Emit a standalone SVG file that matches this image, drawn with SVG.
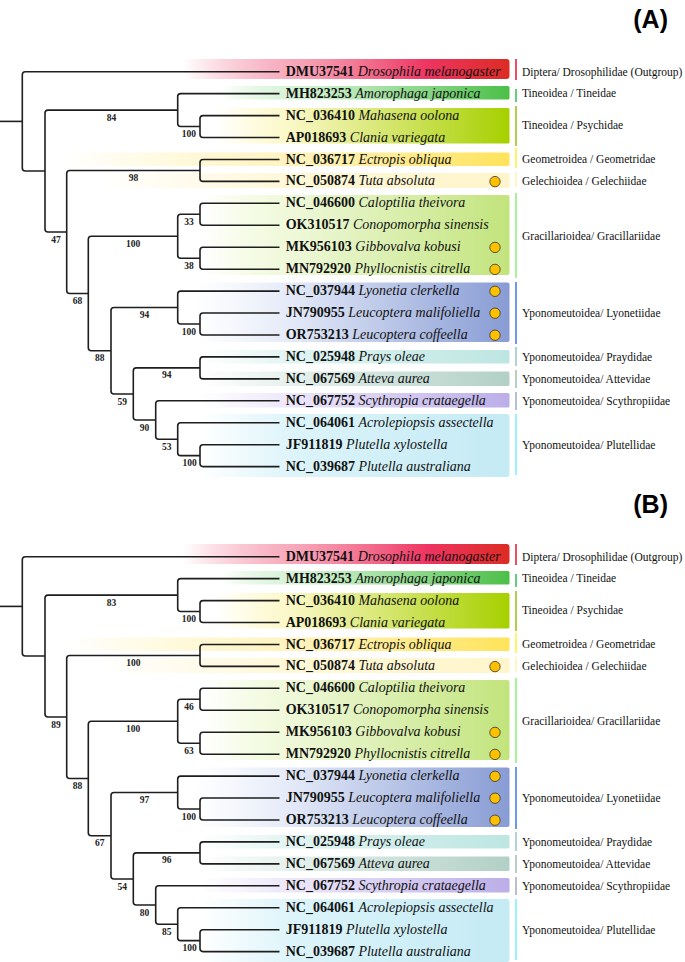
<svg xmlns="http://www.w3.org/2000/svg" width="685" height="962" viewBox="0 0 685 962">
<style>
.br{fill:none;stroke:#1e1e1e;stroke-width:1.6;stroke-linejoin:round}
.leaf{font-family:"Liberation Serif",serif;font-size:14px;fill:#111}
.acc{font-weight:bold}
.sp{font-style:italic}
.sup{font-family:"Liberation Serif",serif;font-size:9.5px;font-weight:bold;fill:#222;text-anchor:middle}
.fam{font-family:"Liberation Serif",serif;font-size:11.5px;fill:#111}
.bar{stroke-width:1.6}
.dot{fill:#ffc000;stroke:#333;stroke-width:0.8}
.pl{font-family:"Liberation Sans",Arial,sans-serif;font-size:25px;font-weight:bold;fill:#000;text-anchor:end}
</style>
<defs>
<linearGradient id="gDros"><stop offset="0" stop-color="#f06080" stop-opacity="0"/><stop offset="0.35" stop-color="#f590a8" stop-opacity="0.8"/><stop offset="0.75" stop-color="#ee3460"/><stop offset="1" stop-color="#dc2c24"/></linearGradient>
<linearGradient id="gAmo"><stop offset="0" stop-color="#b0e8b0" stop-opacity="0"/><stop offset="0.3" stop-color="#cdf0cd" stop-opacity="0.9"/><stop offset="1" stop-color="#4cbf48"/></linearGradient>
<linearGradient id="gPsy"><stop offset="0" stop-color="#fff8c0" stop-opacity="0"/><stop offset="0.25" stop-color="#fbf8c8"/><stop offset="1" stop-color="#a6d000"/></linearGradient>
<linearGradient id="gGeo"><stop offset="0" stop-color="#fff0a0" stop-opacity="0"/><stop offset="0.5" stop-color="#fff0b0" stop-opacity="0.8"/><stop offset="1" stop-color="#ffe35a"/></linearGradient>
<linearGradient id="gGel"><stop offset="0" stop-color="#fff8d8" stop-opacity="0"/><stop offset="0.45" stop-color="#fff8d8"/><stop offset="1" stop-color="#fff5cc"/></linearGradient>
<linearGradient id="gGra"><stop offset="0" stop-color="#e8f8c0" stop-opacity="0"/><stop offset="0.3" stop-color="#eef8d8"/><stop offset="1" stop-color="#c2e47c"/></linearGradient>
<linearGradient id="gLyo"><stop offset="0" stop-color="#e8eef8" stop-opacity="0"/><stop offset="0.3" stop-color="#e4eaf8"/><stop offset="1" stop-color="#889cd4"/></linearGradient>
<linearGradient id="gPra"><stop offset="0" stop-color="#e0f4f2" stop-opacity="0"/><stop offset="0.3" stop-color="#e0f4f2"/><stop offset="1" stop-color="#bde6e2"/></linearGradient>
<linearGradient id="gAtt"><stop offset="0" stop-color="#e4f0ec" stop-opacity="0"/><stop offset="0.3" stop-color="#e4f0ec"/><stop offset="1" stop-color="#b2d0c6"/></linearGradient>
<linearGradient id="gScy"><stop offset="0" stop-color="#ece6fa" stop-opacity="0"/><stop offset="0.3" stop-color="#ece6fa"/><stop offset="1" stop-color="#bcaee8"/></linearGradient>
<linearGradient id="gPlu"><stop offset="0" stop-color="#dcf4fa" stop-opacity="0"/><stop offset="0.3" stop-color="#dcf4fa"/><stop offset="1" stop-color="#c4eaf4"/></linearGradient>
</defs>
<rect width="685" height="962" fill="#fff"/>

<g id="panel-a">
<text class="pl" x="668" y="28">(A)</text>
<g id="families-a">
<g id="fam-a-drosophilidae"><rect x="183" y="59" width="326.5" height="20" rx="3" fill="url(#gDros)"/><line class="bar" x1="516" y1="59" x2="516" y2="80" stroke="#e8203a"/><text class="fam" x="522" y="75.5">Diptera/ Drosophilidae (Outgroup)</text></g>
<g id="fam-a-tineidae"><rect x="220" y="86" width="289.5" height="13.5" rx="1.5" fill="url(#gAmo)"/><line class="bar" x1="516" y1="89" x2="516" y2="102" stroke="#40c060"/><text class="fam" x="522" y="96.5">Tineoidea / Tineidae</text></g>
<g id="fam-a-psychidae"><rect x="215" y="108" width="294.5" height="35.5" rx="1.5" fill="url(#gPsy)"/><line class="bar" x1="516" y1="106" x2="516" y2="146" stroke="#a0c020"/><text class="fam" x="522" y="128.8">Tineoidea / Psychidae</text></g>
<g id="fam-a-geometridae"><rect x="67" y="152.5" width="442.5" height="13.5" rx="1.5" fill="url(#gGeo)"/><line class="bar" x1="516" y1="148" x2="516" y2="168" stroke="#fff040"/><text class="fam" x="522" y="162.8">Geometroidea / Geometridae</text></g>
<g id="fam-a-gelechiidae"><rect x="100" y="173" width="409.5" height="15" rx="1.5" fill="url(#gGel)"/><line class="bar" x1="516" y1="172" x2="516" y2="187" stroke="#fff4b8"/><text class="fam" x="522" y="184.5">Gelechioidea / Gelechiidae</text></g>
<g id="fam-a-gracillariidae"><rect x="205" y="195" width="304.5" height="80" rx="2" fill="url(#gGra)"/><line class="bar" x1="516" y1="193" x2="516" y2="278" stroke="#90f080"/><text class="fam" x="522" y="239.8">Gracillarioidea/ Gracillariidae</text></g>
<g id="fam-a-lyonetiidae"><rect x="195" y="282.5" width="314.5" height="59.5" rx="2" fill="url(#gLyo)"/><line class="bar" x1="516" y1="282" x2="516" y2="344" stroke="#4a7ee8"/><text class="fam" x="522" y="317.1">Yponomeutoidea/ Lyonetiidae</text></g>
<g id="fam-a-praydidae"><rect x="200" y="350" width="309.5" height="13.5" rx="1.5" fill="url(#gPra)"/><line class="bar" x1="516" y1="347" x2="516" y2="366" stroke="#9cc8c8"/><text class="fam" x="522" y="360.5">Yponomeutoidea/ Praydidae</text></g>
<g id="fam-a-attevidae"><rect x="200" y="371.5" width="309.5" height="14.5" rx="1.5" fill="url(#gAtt)"/><line class="bar" x1="516" y1="370" x2="516" y2="388" stroke="#a8c0b8"/><text class="fam" x="522" y="383.1">Yponomeutoidea/ Attevidae</text></g>
<g id="fam-a-scythropiidae"><rect x="200" y="393" width="309.5" height="14.5" rx="1.5" fill="url(#gScy)"/><line class="bar" x1="516" y1="392" x2="516" y2="410" stroke="#a8b0c0"/><text class="fam" x="522" y="404.8">Yponomeutoidea/ Scythropiidae</text></g>
<g id="fam-a-plutellidae"><rect x="200" y="414" width="309.5" height="63" rx="3" fill="url(#gPlu)"/><line class="bar" x1="516" y1="414" x2="516" y2="475" stroke="#80f0ff"/><text class="fam" x="522" y="448.8">Yponomeutoidea/ Plutellidae</text></g>
</g>
<g id="connectors-a" class="br">
<path d="M0,121.4H22.3"/>
<path d="M279.5,71.7H25.3Q22.3,71.7 22.3,74.7V168.05Q22.3,171.05 25.3,171.05H45"/>
<path d="M177.7,110.1H48Q45,110.1 45,113.1V229Q45,232 48,232H66.7"/>
<path d="M279.5,93.6H180.7Q177.7,93.6 177.7,96.6V123.55Q177.7,126.55 180.7,126.55H200"/>
<path d="M279.5,115.6H203Q200,115.6 200,118.6V134.5Q200,137.5 203,137.5H279.5"/>
<path d="M200,170.45H69.7Q66.7,170.45 66.7,173.45V290.5Q66.7,293.5 69.7,293.5H88.3"/>
<path d="M279.5,159.5H203Q200,159.5 200,162.5V178.4Q200,181.4 203,181.4H279.5"/>
<path d="M177.7,236.25H91.3Q88.3,236.25 88.3,239.25V347.75Q88.3,350.75 91.3,350.75H111"/>
<path d="M200,214.3H180.7Q177.7,214.3 177.7,217.3V255.2Q177.7,258.2 180.7,258.2H200"/>
<path d="M279.5,203.3H203Q200,203.3 200,206.3V222.3Q200,225.3 203,225.3H279.5"/>
<path d="M279.5,247.2H203Q200,247.2 200,250.2V266.2Q200,269.2 203,269.2H279.5"/>
<path d="M177.7,307.55H114Q111,307.55 111,310.55V390.95Q111,393.95 114,393.95H133.3"/>
<path d="M279.5,291.1H180.7Q177.7,291.1 177.7,294.1V321Q177.7,324 180.7,324H200"/>
<path d="M279.5,313H203Q200,313 200,316V332Q200,335 203,335H279.5"/>
<path d="M200,367.9H136.3Q133.3,367.9 133.3,370.9V417Q133.3,420 136.3,420H155.7"/>
<path d="M279.5,356.9H203Q200,356.9 200,359.9V375.9Q200,378.9 203,378.9H279.5"/>
<path d="M279.5,400.8H158.7Q155.7,400.8 155.7,403.8V436.2Q155.7,439.2 158.7,439.2H177.7"/>
<path d="M279.5,422.7H180.7Q177.7,422.7 177.7,425.7V452.65Q177.7,455.65 180.7,455.65H200"/>
<path d="M279.5,444.7H203Q200,444.7 200,447.7V463.6Q200,466.6 203,466.6H279.5"/>
</g>
<g id="support-a">
<text class="sup" x="111.4" y="120.6">84</text>
<text class="sup" x="188.9" y="137.1">100</text>
<text class="sup" x="55.9" y="242.5">47</text>
<text class="sup" x="133.4" y="181">98</text>
<text class="sup" x="77.5" y="304">68</text>
<text class="sup" x="133" y="246.8">100</text>
<text class="sup" x="188.9" y="224.8">33</text>
<text class="sup" x="188.9" y="268.7">38</text>
<text class="sup" x="99.7" y="361.3">88</text>
<text class="sup" x="144.4" y="318.1">94</text>
<text class="sup" x="188.9" y="334.5">100</text>
<text class="sup" x="122.2" y="404.5">59</text>
<text class="sup" x="166.7" y="378.4">94</text>
<text class="sup" x="144.5" y="430.5">90</text>
<text class="sup" x="166.7" y="449.7">53</text>
<text class="sup" x="189.5" y="466.2">100</text>
</g>
<g id="leaves-a">
<g id="a-dmu37541"><text class="leaf" x="285.7" y="75.7"><tspan class="acc">DMU37541</tspan> <tspan class="sp">Drosophila melanogaster</tspan></text></g>
<g id="a-mh823253"><text class="leaf" x="285.7" y="97.6"><tspan class="acc">MH823253</tspan> <tspan class="sp">Amorophaga japonica</tspan></text></g>
<g id="a-nc036410"><text class="leaf" x="285.7" y="119.6"><tspan class="acc">NC_036410</tspan> <tspan class="sp">Mahasena oolona</tspan></text></g>
<g id="a-ap018693"><text class="leaf" x="285.7" y="141.5"><tspan class="acc">AP018693</tspan> <tspan class="sp">Clania variegata</tspan></text></g>
<g id="a-nc036717"><text class="leaf" x="285.7" y="163.5"><tspan class="acc">NC_036717</tspan> <tspan class="sp">Ectropis obliqua</tspan></text></g>
<g id="a-nc050874"><text class="leaf" x="285.7" y="185.4"><tspan class="acc">NC_050874</tspan> <tspan class="sp">Tuta absoluta</tspan></text><circle class="dot" cx="495" cy="181.6" r="5.2"/></g>
<g id="a-nc046600"><text class="leaf" x="285.7" y="207.3"><tspan class="acc">NC_046600</tspan> <tspan class="sp">Caloptilia theivora</tspan></text></g>
<g id="a-ok310517"><text class="leaf" x="285.7" y="229.3"><tspan class="acc">OK310517</tspan> <tspan class="sp">Conopomorpha sinensis</tspan></text></g>
<g id="a-mk956103"><text class="leaf" x="285.7" y="251.2"><tspan class="acc">MK956103</tspan> <tspan class="sp">Gibbovalva kobusi</tspan></text><circle class="dot" cx="495" cy="247.4" r="5.2"/></g>
<g id="a-mn792920"><text class="leaf" x="285.7" y="273.2"><tspan class="acc">MN792920</tspan> <tspan class="sp">Phyllocnistis citrella</tspan></text><circle class="dot" cx="495" cy="269.4" r="5.2"/></g>
<g id="a-nc037944"><text class="leaf" x="285.7" y="295.1"><tspan class="acc">NC_037944</tspan> <tspan class="sp">Lyonetia clerkella</tspan></text><circle class="dot" cx="495" cy="291.3" r="5.2"/></g>
<g id="a-jn790955"><text class="leaf" x="285.7" y="317"><tspan class="acc">JN790955</tspan> <tspan class="sp">Leucoptera malifoliella</tspan></text><circle class="dot" cx="495" cy="313.2" r="5.2"/></g>
<g id="a-or753213"><text class="leaf" x="285.7" y="339"><tspan class="acc">OR753213</tspan> <tspan class="sp">Leucoptera coffeella</tspan></text><circle class="dot" cx="495" cy="335.2" r="5.2"/></g>
<g id="a-nc025948"><text class="leaf" x="285.7" y="360.9"><tspan class="acc">NC_025948</tspan> <tspan class="sp">Prays oleae</tspan></text></g>
<g id="a-nc067569"><text class="leaf" x="285.7" y="382.9"><tspan class="acc">NC_067569</tspan> <tspan class="sp">Atteva aurea</tspan></text></g>
<g id="a-nc067752"><text class="leaf" x="285.7" y="404.8"><tspan class="acc">NC_067752</tspan> <tspan class="sp">Scythropia crataegella</tspan></text></g>
<g id="a-nc064061"><text class="leaf" x="285.7" y="426.7"><tspan class="acc">NC_064061</tspan> <tspan class="sp">Acrolepiopsis assectella</tspan></text></g>
<g id="a-jf911819"><text class="leaf" x="285.7" y="448.7"><tspan class="acc">JF911819</tspan> <tspan class="sp">Plutella xylostella</tspan></text></g>
<g id="a-nc039687"><text class="leaf" x="285.7" y="470.6"><tspan class="acc">NC_039687</tspan> <tspan class="sp">Plutella australiana</tspan></text></g>
</g>
</g>

<g id="panel-b" transform="translate(0,485)">
<text class="pl" x="668" y="28">(B)</text>
<g id="families-b">
<g id="fam-b-drosophilidae"><rect x="183" y="59" width="326.5" height="20" rx="3" fill="url(#gDros)"/><line class="bar" x1="516" y1="59" x2="516" y2="80" stroke="#e8203a"/><text class="fam" x="522" y="75.5">Diptera/ Drosophilidae (Outgroup)</text></g>
<g id="fam-b-tineidae"><rect x="220" y="86" width="289.5" height="13.5" rx="1.5" fill="url(#gAmo)"/><line class="bar" x1="516" y1="89" x2="516" y2="102" stroke="#40c060"/><text class="fam" x="522" y="96.5">Tineoidea / Tineidae</text></g>
<g id="fam-b-psychidae"><rect x="215" y="108" width="294.5" height="35.5" rx="1.5" fill="url(#gPsy)"/><line class="bar" x1="516" y1="106" x2="516" y2="146" stroke="#a0c020"/><text class="fam" x="522" y="128.8">Tineoidea / Psychidae</text></g>
<g id="fam-b-geometridae"><rect x="67" y="152.5" width="442.5" height="13.5" rx="1.5" fill="url(#gGeo)"/><line class="bar" x1="516" y1="148" x2="516" y2="168" stroke="#fff040"/><text class="fam" x="522" y="162.8">Geometroidea / Geometridae</text></g>
<g id="fam-b-gelechiidae"><rect x="100" y="173" width="409.5" height="15" rx="1.5" fill="url(#gGel)"/><line class="bar" x1="516" y1="172" x2="516" y2="187" stroke="#fff4b8"/><text class="fam" x="522" y="184.5">Gelechioidea / Gelechiidae</text></g>
<g id="fam-b-gracillariidae"><rect x="205" y="195" width="304.5" height="80" rx="2" fill="url(#gGra)"/><line class="bar" x1="516" y1="193" x2="516" y2="278" stroke="#90f080"/><text class="fam" x="522" y="239.8">Gracillarioidea/ Gracillariidae</text></g>
<g id="fam-b-lyonetiidae"><rect x="195" y="282.5" width="314.5" height="59.5" rx="2" fill="url(#gLyo)"/><line class="bar" x1="516" y1="282" x2="516" y2="344" stroke="#4a7ee8"/><text class="fam" x="522" y="317.1">Yponomeutoidea/ Lyonetiidae</text></g>
<g id="fam-b-praydidae"><rect x="200" y="350" width="309.5" height="13.5" rx="1.5" fill="url(#gPra)"/><line class="bar" x1="516" y1="347" x2="516" y2="366" stroke="#9cc8c8"/><text class="fam" x="522" y="360.5">Yponomeutoidea/ Praydidae</text></g>
<g id="fam-b-attevidae"><rect x="200" y="371.5" width="309.5" height="14.5" rx="1.5" fill="url(#gAtt)"/><line class="bar" x1="516" y1="370" x2="516" y2="388" stroke="#a8c0b8"/><text class="fam" x="522" y="383.1">Yponomeutoidea/ Attevidae</text></g>
<g id="fam-b-scythropiidae"><rect x="200" y="393" width="309.5" height="14.5" rx="1.5" fill="url(#gScy)"/><line class="bar" x1="516" y1="392" x2="516" y2="410" stroke="#a8b0c0"/><text class="fam" x="522" y="404.8">Yponomeutoidea/ Scythropiidae</text></g>
<g id="fam-b-plutellidae"><rect x="200" y="414" width="309.5" height="63" rx="3" fill="url(#gPlu)"/><line class="bar" x1="516" y1="414" x2="516" y2="475" stroke="#80f0ff"/><text class="fam" x="522" y="448.8">Yponomeutoidea/ Plutellidae</text></g>
</g>
<g id="connectors-b" class="br">
<path d="M0,121.4H22.3"/>
<path d="M279.5,71.7H25.3Q22.3,71.7 22.3,74.7V168.05Q22.3,171.05 25.3,171.05H45"/>
<path d="M177.7,110.1H48Q45,110.1 45,113.1V229Q45,232 48,232H66.7"/>
<path d="M279.5,93.6H180.7Q177.7,93.6 177.7,96.6V123.55Q177.7,126.55 180.7,126.55H200"/>
<path d="M279.5,115.6H203Q200,115.6 200,118.6V134.5Q200,137.5 203,137.5H279.5"/>
<path d="M200,170.45H69.7Q66.7,170.45 66.7,173.45V290.5Q66.7,293.5 69.7,293.5H88.3"/>
<path d="M279.5,159.5H203Q200,159.5 200,162.5V178.4Q200,181.4 203,181.4H279.5"/>
<path d="M177.7,236.25H91.3Q88.3,236.25 88.3,239.25V347.75Q88.3,350.75 91.3,350.75H111"/>
<path d="M200,214.3H180.7Q177.7,214.3 177.7,217.3V255.2Q177.7,258.2 180.7,258.2H200"/>
<path d="M279.5,203.3H203Q200,203.3 200,206.3V222.3Q200,225.3 203,225.3H279.5"/>
<path d="M279.5,247.2H203Q200,247.2 200,250.2V266.2Q200,269.2 203,269.2H279.5"/>
<path d="M177.7,307.55H114Q111,307.55 111,310.55V390.95Q111,393.95 114,393.95H133.3"/>
<path d="M279.5,291.1H180.7Q177.7,291.1 177.7,294.1V321Q177.7,324 180.7,324H200"/>
<path d="M279.5,313H203Q200,313 200,316V332Q200,335 203,335H279.5"/>
<path d="M200,367.9H136.3Q133.3,367.9 133.3,370.9V417Q133.3,420 136.3,420H155.7"/>
<path d="M279.5,356.9H203Q200,356.9 200,359.9V375.9Q200,378.9 203,378.9H279.5"/>
<path d="M279.5,400.8H158.7Q155.7,400.8 155.7,403.8V436.2Q155.7,439.2 158.7,439.2H177.7"/>
<path d="M279.5,422.7H180.7Q177.7,422.7 177.7,425.7V452.65Q177.7,455.65 180.7,455.65H200"/>
<path d="M279.5,444.7H203Q200,444.7 200,447.7V463.6Q200,466.6 203,466.6H279.5"/>
</g>
<g id="support-b">
<text class="sup" x="111.4" y="120.6">83</text>
<text class="sup" x="188.9" y="137.1">100</text>
<text class="sup" x="55.9" y="242.5">89</text>
<text class="sup" x="133.4" y="181">100</text>
<text class="sup" x="77.5" y="304">88</text>
<text class="sup" x="133" y="246.8">100</text>
<text class="sup" x="188.9" y="224.8">46</text>
<text class="sup" x="188.9" y="268.7">63</text>
<text class="sup" x="99.7" y="361.3">67</text>
<text class="sup" x="144.4" y="318.1">97</text>
<text class="sup" x="188.9" y="334.5">100</text>
<text class="sup" x="122.2" y="404.5">54</text>
<text class="sup" x="166.7" y="378.4">96</text>
<text class="sup" x="144.5" y="430.5">80</text>
<text class="sup" x="166.7" y="449.7">85</text>
<text class="sup" x="189.5" y="466.2">100</text>
</g>
<g id="leaves-b">
<g id="b-dmu37541"><text class="leaf" x="285.7" y="75.7"><tspan class="acc">DMU37541</tspan> <tspan class="sp">Drosophila melanogaster</tspan></text></g>
<g id="b-mh823253"><text class="leaf" x="285.7" y="97.6"><tspan class="acc">MH823253</tspan> <tspan class="sp">Amorophaga japonica</tspan></text></g>
<g id="b-nc036410"><text class="leaf" x="285.7" y="119.6"><tspan class="acc">NC_036410</tspan> <tspan class="sp">Mahasena oolona</tspan></text></g>
<g id="b-ap018693"><text class="leaf" x="285.7" y="141.5"><tspan class="acc">AP018693</tspan> <tspan class="sp">Clania variegata</tspan></text></g>
<g id="b-nc036717"><text class="leaf" x="285.7" y="163.5"><tspan class="acc">NC_036717</tspan> <tspan class="sp">Ectropis obliqua</tspan></text></g>
<g id="b-nc050874"><text class="leaf" x="285.7" y="185.4"><tspan class="acc">NC_050874</tspan> <tspan class="sp">Tuta absoluta</tspan></text><circle class="dot" cx="495" cy="181.6" r="5.2"/></g>
<g id="b-nc046600"><text class="leaf" x="285.7" y="207.3"><tspan class="acc">NC_046600</tspan> <tspan class="sp">Caloptilia theivora</tspan></text></g>
<g id="b-ok310517"><text class="leaf" x="285.7" y="229.3"><tspan class="acc">OK310517</tspan> <tspan class="sp">Conopomorpha sinensis</tspan></text></g>
<g id="b-mk956103"><text class="leaf" x="285.7" y="251.2"><tspan class="acc">MK956103</tspan> <tspan class="sp">Gibbovalva kobusi</tspan></text><circle class="dot" cx="495" cy="247.4" r="5.2"/></g>
<g id="b-mn792920"><text class="leaf" x="285.7" y="273.2"><tspan class="acc">MN792920</tspan> <tspan class="sp">Phyllocnistis citrella</tspan></text><circle class="dot" cx="495" cy="269.4" r="5.2"/></g>
<g id="b-nc037944"><text class="leaf" x="285.7" y="295.1"><tspan class="acc">NC_037944</tspan> <tspan class="sp">Lyonetia clerkella</tspan></text><circle class="dot" cx="495" cy="291.3" r="5.2"/></g>
<g id="b-jn790955"><text class="leaf" x="285.7" y="317"><tspan class="acc">JN790955</tspan> <tspan class="sp">Leucoptera malifoliella</tspan></text><circle class="dot" cx="495" cy="313.2" r="5.2"/></g>
<g id="b-or753213"><text class="leaf" x="285.7" y="339"><tspan class="acc">OR753213</tspan> <tspan class="sp">Leucoptera coffeella</tspan></text><circle class="dot" cx="495" cy="335.2" r="5.2"/></g>
<g id="b-nc025948"><text class="leaf" x="285.7" y="360.9"><tspan class="acc">NC_025948</tspan> <tspan class="sp">Prays oleae</tspan></text></g>
<g id="b-nc067569"><text class="leaf" x="285.7" y="382.9"><tspan class="acc">NC_067569</tspan> <tspan class="sp">Atteva aurea</tspan></text></g>
<g id="b-nc067752"><text class="leaf" x="285.7" y="404.8"><tspan class="acc">NC_067752</tspan> <tspan class="sp">Scythropia crataegella</tspan></text></g>
<g id="b-nc064061"><text class="leaf" x="285.7" y="426.7"><tspan class="acc">NC_064061</tspan> <tspan class="sp">Acrolepiopsis assectella</tspan></text></g>
<g id="b-jf911819"><text class="leaf" x="285.7" y="448.7"><tspan class="acc">JF911819</tspan> <tspan class="sp">Plutella xylostella</tspan></text></g>
<g id="b-nc039687"><text class="leaf" x="285.7" y="470.6"><tspan class="acc">NC_039687</tspan> <tspan class="sp">Plutella australiana</tspan></text></g>
</g>
</g>
</svg>
